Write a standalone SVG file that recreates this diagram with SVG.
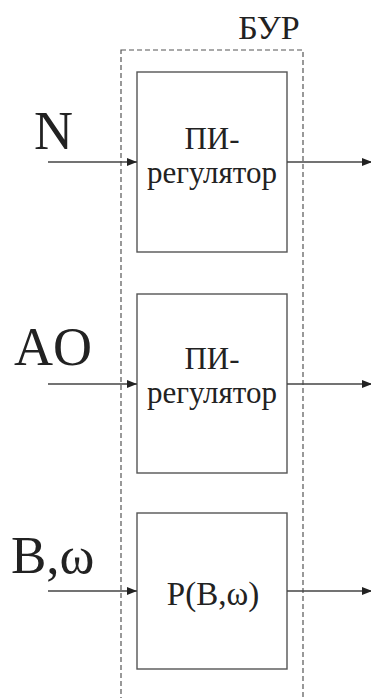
<svg xmlns="http://www.w3.org/2000/svg" width="371" height="698" viewBox="0 0 371 698">
<style>
.box{fill:#fff;stroke:#555;stroke-width:1.4}
.lbl{font-family:'Liberation Serif','Times New Roman',serif;fill:#222}
.in{font-size:54px}
.inner{font-size:31px;text-anchor:middle}
.wire{stroke:#444;stroke-width:1.4;fill:none}
</style>
<defs>
<marker id="ah" markerWidth="10" markerHeight="8" refX="10" refY="4" orient="auto" markerUnits="userSpaceOnUse">
<path d="M0,0 L10,4 L0,8 Z" fill="#222"/>
</marker>
</defs>
<g id="bur">
<rect x="121" y="50" width="182" height="700" fill="none" stroke="#555" stroke-width="1.2" stroke-dasharray="5,3"/>
<text class="lbl" x="269" y="39" style="font-size:34px;text-anchor:middle">БУР</text>
</g>
<g id="pi1">
<rect class="box" x="137" y="72" width="150" height="180"/>
<text class="lbl inner" x="212" y="149">ПИ-</text>
<text class="lbl inner" x="212" y="183">регулятор</text>
</g>
<g id="pi2">
<rect class="box" x="137" y="294" width="150" height="179"/>
<text class="lbl inner" x="212" y="369">ПИ-</text>
<text class="lbl inner" x="212" y="403">регулятор</text>
</g>
<g id="pbw">
<rect class="box" x="137" y="513" width="150" height="156"/>
<text class="lbl inner" x="213" y="605" style="font-size:33px">P(B,ω)</text>
</g>
<g id="labels">
<text class="lbl in" x="34" y="149">N</text>
<text class="lbl in" x="14" y="365">AO</text>
<text class="lbl in" x="11" y="573" style="font-size:53px">B,ω</text>
</g>
<g id="connectors">
<line class="wire" x1="48" y1="162" x2="137" y2="162" marker-end="url(#ah)"/>
<line class="wire" x1="287" y1="162" x2="372" y2="162" marker-end="url(#ah)"/>
<line class="wire" x1="48" y1="384" x2="137" y2="384" marker-end="url(#ah)"/>
<line class="wire" x1="287" y1="384" x2="372" y2="384" marker-end="url(#ah)"/>
<line class="wire" x1="48" y1="591" x2="137" y2="591" marker-end="url(#ah)"/>
<line class="wire" x1="287" y1="591" x2="372" y2="591" marker-end="url(#ah)"/>
</g>
</svg>
